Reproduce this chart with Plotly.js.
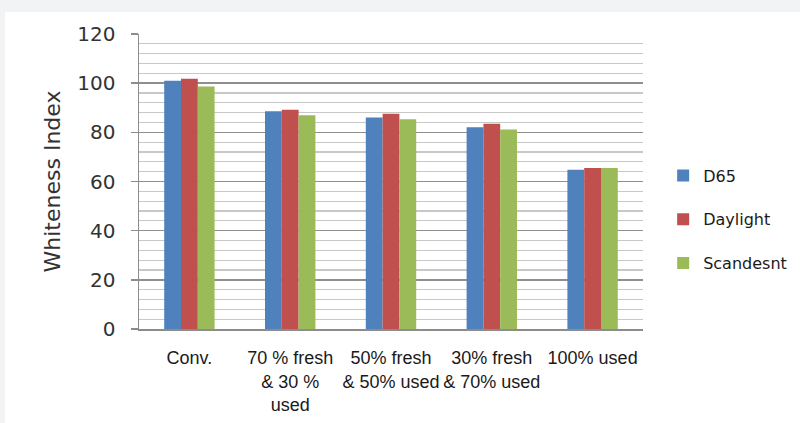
<!DOCTYPE html>
<html>
<head>
<meta charset="utf-8">
<script src="https://cdn.plot.ly/plotly-3.0.1.min.js"></script>
<style>
  html, body { margin: 0; padding: 0; background: #f2f3f5; width: 800px; height: 423px; overflow: hidden; }
  #chart { position: absolute; left: 5px; top: 12px; width: 830px; height: 411px; background: #fff; }
</style>
</head>
<body>
<div id="chart"></div>
<script>
const categories = ["Conv.", "70 % fresh<br>& 30 %<br>used", "50% fresh<br>& 50% used", "30% fresh<br>& 70% used", "100% used"];
const d65 = [101.0, 88.6, 86.0, 82.1, 64.8];
const daylight = [101.8, 89.2, 87.6, 83.5, 65.5];
const scandesnt = [98.6, 86.9, 85.3, 81.2, 65.5];
const seriesNames = ["D65", "Daylight", "Scandesnt"];
const colors = ["#4f81bd", "#c0504d", "#9bbb59"];
const yTicks = [0, 20, 40, 60, 80, 100, 120];

const series = [d65, daylight, scandesnt];
const traces = series.map((vals, i) => ({
  type: "bar",
  x: categories,
  y: vals,
  name: seriesNames[i],
  legendgroup: "g" + i,
  marker: { color: colors[i], line: { width: 0 } },
  hoverinfo: "x+y+name"
}));

const layout = {
  width: 830,
  height: 411,
  paper_bgcolor: "#ffffff",
  plot_bgcolor: "#ffffff",
  margin: { l: 134, r: 192, t: 22, b: 94 },
  barmode: "group",
  bargap: 0.5,
  bargroupgap: 0,
  font: { family: "DejaVu Sans", color: "#1a1a1a" },
  xaxis: {
    type: "category",
    showgrid: false,
    showline: true,
    linecolor: "#8c8c8c",
    linewidth: 1.5,
    ticks: "",
    tickangle: 0,
    ticklabelstandoff: 12,
    tickfont: { family: "Liberation Sans", size: 18, color: "#1a1a1a" },
    zeroline: false
  },
  yaxis: {
    range: [0, 120],
    tickvals: yTicks,
    ticktext: yTicks.map(String),
    showline: true,
    linecolor: "#8c8c8c",
    linewidth: 1.5,
    ticks: "outside",
    ticklen: 7,
    tickcolor: "#8c8c8c",
    tickwidth: 1.5,
    tickfont: { family: "DejaVu Sans", size: 20, color: "#333333" },
    ticklabelstandoff: 11,
    showgrid: true,
    gridcolor: "#8f8f8f",
    gridwidth: 1.6,
    zeroline: false,
    minor: { dtick: 4, showgrid: true, gridcolor: "#c8c8c8", gridwidth: 1.3, ticks: "" },
    title: { text: "Whiteness Index", font: { family: "DejaVu Sans", size: 22, color: "#333333" }, standoff: 10 }
  },
  legend: {
    x: 1.04,
    xanchor: "left",
    y: 0.578,
    yanchor: "top",
    font: { family: "DejaVu Sans", size: 16, color: "#1a1a1a" },
    tracegroupgap: 20,
    traceorder: "grouped",
    bgcolor: "rgba(0,0,0,0)"
  },
  showlegend: true
};

Plotly.newPlot("chart", traces, layout, { displayModeBar: false, staticPlot: true });
</script>
</body>
</html>
